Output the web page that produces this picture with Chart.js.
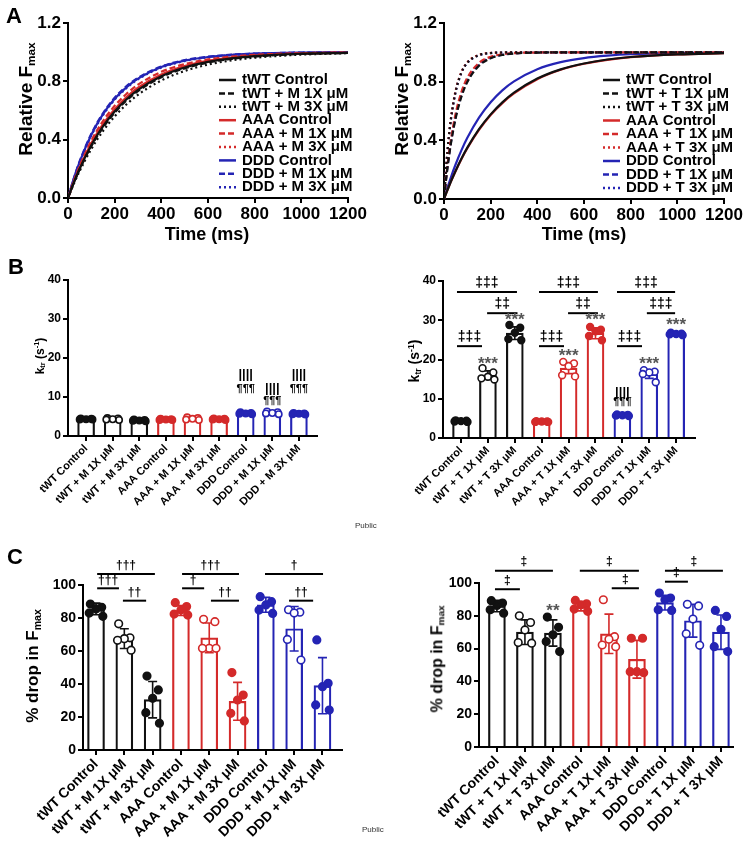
<!DOCTYPE html>
<html>
<head>
<meta charset="utf-8">
<title>Relative Fmax, ktr and % drop in Fmax</title>
<script src="https://cdn.jsdelivr.net/npm/chart.js@4.4.1/dist/chart.umd.min.js"></script>
<style>
  body { margin: 0; background: #fff; }
  #fig { position: relative; width: 747px; height: 847px; overflow: hidden; font-family: "Liberation Sans", Arial, sans-serif; color: #000; }
  #fig canvas { position: absolute; }
  .t { position: absolute; font-weight: bold; white-space: nowrap; line-height: 1; }
  .rot { transform: translate(-50%, -50%) rotate(-90deg); }
  .hc { transform: translate(-50%, -50%); }
  .t sub { font-size: 62%; vertical-align: -0.25em; }
  .t sup { font-size: 62%; vertical-align: 0.6em; }
  .letter { position: absolute; font-weight: bold; font-size: 22px; line-height: 1; }
  .pub { position: absolute; font-size: 8px; color: #333; line-height: 1; }
</style>
</head>
<body>
<div id="fig">
  <canvas id="aLeft" width="372" height="250" style="left:0;top:0"></canvas>
  <canvas id="aRight" width="372" height="250" style="left:375px;top:0"></canvas>
  <canvas id="bLeft" width="372" height="275" style="left:0;top:255px"></canvas>
  <canvas id="bRight" width="372" height="275" style="left:375px;top:255px"></canvas>
  <canvas id="cLeft" width="372" height="307" style="left:0;top:540px"></canvas>
  <canvas id="cRight" width="372" height="307" style="left:375px;top:540px"></canvas>

  <div class="letter" style="left:6px;top:5px">A</div>
  <div class="letter" style="left:8px;top:256px">B</div>
  <div class="letter" style="left:7px;top:546px">C</div>

  <div class="t rot" style="left:26px;top:99px;font-size:19px">Relative F<sub>max</sub></div>
  <div class="t rot" style="left:402px;top:99px;font-size:19px">Relative F<sub>max</sub></div>
  <div class="t hc" style="left:207px;top:234px;font-size:18px">Time (ms)</div>
  <div class="t hc" style="left:584px;top:234px;font-size:18px">Time (ms)</div>

  <div class="t rot" style="left:40px;top:356px;font-size:12px">k<sub>tr</sub> (s<sup>-1</sup>)</div>
  <div class="t rot" style="left:415px;top:361px;font-size:14px">k<sub>tr</sub> (s<sup>-1</sup>)</div>

  <div class="t rot" style="left:33px;top:666px;font-size:17px">% drop in F<sub>max</sub></div>
  <div class="t rot" style="left:438px;top:659px;font-size:16px">% drop in F<sub>max</sub></div>

  <div class="pub" style="left:355px;top:522px">Public</div>
  <div class="pub" style="left:362px;top:826px">Public</div>
</div>

<script>
// ---- A: relative Fmax traces ----
const timeM = [0, 25, 50, 100, 150, 200, 250, 300, 400, 500, 600, 700, 800, 1000, 1200];
const mTwtCtrl = [0, 0.106, 0.201, 0.362, 0.491, 0.593, 0.675, 0.741, 0.835, 0.895, 0.933, 0.957, 0.973, 0.989, 0.995];
const mTwt1x   = [0, 0.104, 0.197, 0.356, 0.483, 0.585, 0.667, 0.733, 0.828, 0.889, 0.929, 0.954, 0.970, 0.988, 0.995];
const mTwt3x   = [0, 0.097, 0.185, 0.336, 0.459, 0.560, 0.641, 0.708, 0.806, 0.871, 0.915, 0.943, 0.962, 0.983, 0.993];
const mAaaCtrl = [0, 0.111, 0.209, 0.375, 0.506, 0.609, 0.691, 0.756, 0.847, 0.905, 0.940, 0.963, 0.977, 0.991, 0.996];
const mAaa1x   = [0, 0.118, 0.221, 0.393, 0.528, 0.632, 0.713, 0.777, 0.865, 0.918, 0.950, 0.970, 0.982, 0.993, 0.998];
const mAaa3x   = [0, 0.109, 0.205, 0.369, 0.498, 0.601, 0.683, 0.748, 0.841, 0.900, 0.937, 0.960, 0.975, 0.990, 0.996];
const mDddCtrl = [0, 0.133, 0.248, 0.434, 0.575, 0.680, 0.759, 0.819, 0.898, 0.942, 0.967, 0.981, 0.990, 0.997, 0.999];
const mDdd1x   = [0, 0.135, 0.252, 0.440, 0.581, 0.687, 0.766, 0.824, 0.902, 0.945, 0.969, 0.983, 0.990, 0.997, 0.999];
const mDdd3x   = [0, 0.131, 0.244, 0.429, 0.568, 0.674, 0.753, 0.814, 0.894, 0.939, 0.965, 0.980, 0.989, 0.996, 0.999];

const timeT = [0, 10, 20, 30, 50, 75, 100, 150, 200, 250, 300, 400, 500, 600, 700, 800, 1000, 1200];
const tTwtCtrl = [0, 0.042, 0.082, 0.121, 0.193, 0.276, 0.350, 0.476, 0.577, 0.659, 0.725, 0.821, 0.884, 0.924, 0.951, 0.968, 0.986, 0.994];
const tTwt1x   = [0, 0.148, 0.274, 0.381, 0.551, 0.699, 0.798, 0.909, 0.959, 0.982, 0.992, 0.998, 1, 1, 1, 1, 1, 1];
const tTwt3x   = [0, 0.233, 0.411, 0.548, 0.734, 0.863, 0.929, 0.981, 0.995, 0.999, 1, 1, 1, 1, 1, 1, 1, 1];
const tAaaCtrl = [0, 0.042, 0.081, 0.120, 0.191, 0.273, 0.346, 0.471, 0.573, 0.654, 0.720, 0.817, 0.881, 0.922, 0.949, 0.967, 0.986, 0.994];
const tAaa1x   = [0, 0.161, 0.295, 0.408, 0.583, 0.731, 0.826, 0.928, 0.970, 0.987, 0.995, 0.999, 1, 1, 1, 1, 1, 1];
const tAaa3x   = [0, 0.237, 0.417, 0.555, 0.741, 0.868, 0.933, 0.983, 0.996, 0.999, 1, 1, 1, 1, 1, 1, 1, 1];
const tDddCtrl = [0, 0.053, 0.102, 0.150, 0.237, 0.333, 0.417, 0.555, 0.660, 0.741, 0.802, 0.885, 0.933, 0.961, 0.977, 0.987, 0.995, 0.998];
const tDdd1x   = [0, 0.152, 0.281, 0.390, 0.562, 0.710, 0.808, 0.916, 0.963, 0.984, 0.993, 0.999, 1, 1, 1, 1, 1, 1];
const tDdd3x   = [0, 0.231, 0.409, 0.546, 0.731, 0.861, 0.928, 0.981, 0.995, 0.999, 1, 1, 1, 1, 1, 1, 1, 1];

const timeTicks = [0, 200, 400, 600, 800, 1000, 1200];
const fmaxTicks = [0, 0.4, 0.8, 1.2];

// ---- categories ----
const labelsM = ["tWT Control", "tWT + M 1X \u03bcM", "tWT + M 3X \u03bcM", "AAA Control", "AAA + M 1X \u03bcM", "AAA + M 3X \u03bcM", "DDD Control", "DDD + M 1X \u03bcM", "DDD + M 3X \u03bcM"];
const labelsT = ["tWT Control", "tWT + T 1X \u03bcM", "tWT + T 3X \u03bcM", "AAA Control", "AAA + T 1X \u03bcM", "AAA + T 3X \u03bcM", "DDD Control", "DDD + T 1X \u03bcM", "DDD + T 3X \u03bcM"];

// ---- B: ktr (s^-1) ----
const ktrTicks = [0, 10, 20, 30, 40];
const ktrM_mean = [4.3, 4.3, 4.0, 4.2, 4.4, 4.3, 5.8, 5.9, 5.7];
const ktrM_sd = [0.15, 0.2, 0.2, 0.1, 0.3, 0.2, 0.2, 0.3, 0.2];
const ktrM_points = [
  [4.5, 4.4, 4.3, 4.2, 4.2], [4.6, 4.5, 4.3, 4.2, 4.1], [4.2, 4.1, 4.0, 3.9, 3.8],
  [4.4, 4.3, 4.2, 4.1, 4.1], [4.8, 4.6, 4.4, 4.2, 4.1], [4.5, 4.4, 4.3, 4.2, 4.1],
  [6.1, 5.9, 5.8, 5.7, 5.6], [6.3, 6.1, 5.9, 5.8, 5.6], [5.9, 5.8, 5.7, 5.6, 5.5]
];
const ktrT_mean = [4.3, 16.0, 26.7, 4.2, 17.8, 26.7, 5.8, 16.3, 26.5];
const ktrT_sd = [0.2, 1.1, 1.6, 0.15, 1.4, 1.4, 0.2, 1.1, 0.3];
const ktrT_points = [
  [4.5, 4.4, 4.3, 4.2, 4.1], [17.8, 16.7, 15.6, 15.2, 14.9], [28.8, 28.1, 26.8, 25.2, 24.9],
  [4.3, 4.2, 4.2, 4.1, 4.1], [19.4, 19.0, 18.3, 16.0, 15.7], [28.3, 27.6, 27.2, 26.0, 24.9],
  [6.0, 5.9, 5.8, 5.7, 5.6], [17.3, 16.9, 16.7, 16.3, 14.2], [26.8, 26.6, 26.5, 26.4, 26.2]
];

// ---- C: % drop in Fmax ----
const dropTicks = [0, 20, 40, 60, 80, 100];
const dropM_mean = [85.5, 67.5, 30.5, 84.5, 68, 29.5, 88, 73.5, 39];
const dropM_sd = [3.5, 6, 11, 3, 9, 11.5, 4.5, 13.5, 17];
const dropM_points = [
  [88.5, 86.5, 85.5, 83, 81], [76.5, 68, 67.5, 66.5, 60.5], [44.8, 36.4, 31.3, 22.6, 16.2],
  [89.3, 86.9, 84.8, 82.4, 81.8], [79.2, 77.8, 61.6, 61.6, 61.6], [46.9, 33.3, 30.3, 22.2, 17.6],
  [92.9, 89.9, 87.9, 84.8, 82.8], [85, 83.5, 83, 67, 54.5], [66.7, 40.4, 38.4, 27.3, 24.2]
];
const dropT_mean = [86, 70, 69.5, 85.5, 69, 53.5, 88, 77, 70];
const dropT_sd = [3.5, 7.5, 8, 2.5, 12, 11.5, 4.5, 10, 10.5];
const dropT_points = [
  [89.2, 87.8, 86.3, 83.7, 81.6], [80, 75.9, 71.4, 63.7, 63.3], [79.2, 73, 68.4, 64.3, 58.2],
  [89.4, 87.3, 86.7, 84.1, 82.7], [89.8, 67.3, 65.7, 62.2, 61.2], [66.3, 66.3, 45.9, 45.9, 45.3],
  [93.9, 90.8, 89.8, 83.7, 83.3], [87, 86, 78, 69, 62], [83.3, 79.6, 71.8, 61.2, 58.2]
];

// significance brackets: [from, to, y, symbol]; texts: [category, y, symbol]
const bracketsKtrT = [
  [-0.15, 2.08, 37.2, "\u2021\u2021\u2021"], [0.97, 2.1, 31.8, "\u2021\u2021"], [-0.15, 0.78, 23.4, "\u2021\u2021\u2021"],
  [2.9, 5.09, 37.2, "\u2021\u2021\u2021"], [3.98, 5.09, 31.8, "\u2021\u2021"], [2.9, 3.83, 23.4, "\u2021\u2021\u2021"],
  [5.8, 7.96, 37.2, "\u2021\u2021\u2021"], [6.91, 7.96, 31.8, "\u2021\u2021\u2021"], [5.8, 6.73, 23.4, "\u2021\u2021\u2021"]
];
const starsKtrT = [[1, 18.9, "***"], [2, 29.9, "***"], [4, 20.7, "***"], [5, 29.9, "***"], [7, 18.7, "***"], [8, 28.6, "***"]];
const symbolsKtrT = [[6, 11.7, "||||"], [6, 9.2, "\u00b6\u00b6\u00b6"]];
const symbolsKtrM = [[6, 15.9, "||||"], [6, 12.0, "\u00b6\u00b6\u00b6"], [7, 12.3, "||||"], [7, 9.0, "\u00b6\u00b6\u00b6"], [8, 15.9, "||||"], [8, 12.0, "\u00b6\u00b6\u00b6"]];
const bracketsDropM = [
  [0.04, 2.08, 106.7, "\u2020\u2020\u2020"], [0.04, 0.81, 98, "\u2020\u2020\u2020"], [0.95, 1.77, 90.5, "\u2020\u2020"],
  [3.04, 5.05, 106.7, "\u2020\u2020\u2020"], [3.04, 3.82, 98, "\u2020"], [4.06, 5.05, 90.5, "\u2020\u2020"],
  [5.97, 8.02, 106.7, "\u2020"], [6.82, 7.67, 90.5, "\u2020\u2020"]
];
const bracketsDropT = [
  [-0.07, 2.0, 107.5, "\u2021"], [-0.07, 0.82, 96.2, "\u2021"],
  [2.96, 5.07, 107.5, "\u2021"], [4.1, 5.07, 96.8, "\u2021"],
  [6.0, 8.07, 107.5, "\u2021"], [6.0, 6.82, 100.8, "\u2021"]
];
const starsDropT = [[2, 82.5, "**"]];

const FONT = '"Liberation Sans", Arial, sans-serif';
Chart.defaults.font.family = FONT;
Chart.defaults.color = "#000";

const BLACK = "#111111", RED = "#d42a2a", BLUE = "#2424b4";
const groupColors = [BLACK, BLACK, BLACK, RED, RED, RED, BLUE, BLUE, BLUE];
const jitter = [-0.2, 0.2, 0, -0.24, 0.24];

// legend drawn inside the plot area, like the original
const insetLegend = {
  id: "insetLegend",
  afterDraw(chart, args, opts) {
    const ctx = chart.ctx;
    ctx.save();
    ctx.font = "bold 15px " + FONT;
    ctx.textBaseline = "middle";
    chart.data.datasets.forEach((ds, i) => {
      const y = opts.y0 + i * opts.dy;
      ctx.strokeStyle = ds.borderColor;
      ctx.lineWidth = 2.5;
      ctx.setLineDash(ds.borderDash || []);
      ctx.beginPath();
      ctx.moveTo(opts.x, y);
      ctx.lineTo(opts.x + 17, y);
      ctx.stroke();
      ctx.setLineDash([]);
      ctx.fillStyle = "#000";
      ctx.fillText(ds.label, opts.x + 23, y);
    });
    ctx.restore();
  }
};

// error bars + significance marks
const marks = {
  id: "marks",
  afterDatasetDraw(chart, args) {
    if (args.meta.type !== "bar") return;
    const ds = chart.data.datasets[args.index];
    const xs = chart.scales.x, ys = chart.scales.y, ctx = chart.ctx;
    ctx.save();
    ctx.lineWidth = 1.6;
    ds.data.forEach((p, i) => {
      const x = xs.getPixelForValue(p.x);
      const top = ys.getPixelForValue(p.y + ds.errors[i]);
      const bot = ys.getPixelForValue(p.y - ds.errors[i]);
      ctx.strokeStyle = groupColors[i];
      ctx.beginPath();
      ctx.moveTo(x, top); ctx.lineTo(x, bot);
      ctx.moveTo(x - 4.5, top); ctx.lineTo(x + 4.5, top);
      ctx.moveTo(x - 4.5, bot); ctx.lineTo(x + 4.5, bot);
      ctx.stroke();
    });
    ctx.restore();
  },
  afterDraw(chart, args, opts) {
    const xs = chart.scales.x, ys = chart.scales.y, ctx = chart.ctx;
    ctx.save();
    ctx.textAlign = "center";
    ctx.textBaseline = "middle";
    (opts.brackets || []).forEach(([a, b, y, t]) => {
      const py = ys.getPixelForValue(y);
      ctx.strokeStyle = "#000";
      ctx.lineWidth = 2;
      ctx.beginPath();
      ctx.moveTo(xs.getPixelForValue(a), py);
      ctx.lineTo(xs.getPixelForValue(b), py);
      ctx.stroke();
      ctx.fillStyle = "#000";
      ctx.font = opts.bracketFont;
      ctx.fillText(t, xs.getPixelForValue((a + b) / 2), py - opts.gap);
    });
    (opts.stars || []).forEach(([i, y, t]) => {
      ctx.fillStyle = "#555";
      ctx.font = opts.starFont;
      ctx.fillText(t, xs.getPixelForValue(i), ys.getPixelForValue(y));
    });
    (opts.symbols || []).forEach(([i, y, t]) => {
      ctx.fillStyle = "#000";
      ctx.font = t === "||||" ? "bold 13px " + FONT : "bold 11px " + FONT;
      ctx.fillText(t, xs.getPixelForValue(i), ys.getPixelForValue(y));
    });
    ctx.restore();
  }
};

function axisStyle() {
  return {
    grid: { drawOnChartArea: false, color: "#000", lineWidth: 2, tickLength: 5, offset: false },
    border: { color: "#000", width: 2 }
  };
}

function traceChart(id, time, series, labels, area, legend) {
  const cv = document.getElementById(id);
  const dashes = [[], [6, 3], [2, 3]];
  new Chart(cv, {
    type: "line",
    data: {
      datasets: series.map((ys, i) => ({
        label: labels[i],
        data: ys.map((y, j) => ({ x: time[j], y: y })),
        borderColor: groupColors[i],
        borderDash: dashes[i % 3],
        borderWidth: 2.2,
        pointRadius: 0,
        cubicInterpolationMode: "monotone",
        fill: false
      }))
    },
    options: {
      responsive: false,
      animation: false,
      layout: { padding: { left: 0, right: cv.width - area.r, top: area.t, bottom: 0 } },
      plugins: { legend: { display: false }, tooltip: { enabled: false }, insetLegend: legend },
      scales: {
        x: Object.assign(axisStyle(), {
          type: "linear", min: 0, max: 1200,
          afterBuildTicks: s => { s.ticks = timeTicks.map(v => ({ value: v })); },
          afterFit: s => { s.height = cv.height - area.b; },
          ticks: { font: { size: 17, weight: "bold" }, padding: 1, maxRotation: 0, callback: v => String(v) }
        }),
        y: Object.assign(axisStyle(), {
          min: 0, max: 1.2,
          afterBuildTicks: s => { s.ticks = fmaxTicks.map(v => ({ value: v })); },
          afterFit: s => { s.width = area.l; },
          ticks: { font: { size: 17, weight: "bold" }, padding: 2, callback: v => v.toFixed(1) }
        })
      }
    },
    plugins: [insetLegend]
  });
}

function barChart(id, labels, means, sds, points, yTicks, cfg) {
  const cv = document.getElementById(id);
  const pts = [], ptFill = [], ptLine = [];
  points.forEach((arr, i) => arr.forEach((v, j) => {
    pts.push({ x: i + jitter[j], y: v });
    ptLine.push(groupColors[i]);
    ptFill.push(i % 3 === 1 ? "#fff" : groupColors[i]);
  }));
  new Chart(cv, {
    type: "bar",
    data: {
      datasets: [
        {
          type: "scatter", order: 0, data: pts,
          pointRadius: cfg.dot, pointBorderWidth: 1.6,
          pointBackgroundColor: ptFill, pointBorderColor: ptLine
        },
        {
          type: "bar", order: 1,
          data: means.map((v, i) => ({ x: i, y: v })),
          errors: sds,
          backgroundColor: "#fff", borderColor: groupColors,
          borderWidth: 2.2, barThickness: 17, borderSkipped: "start"
        }
      ]
    },
    options: {
      responsive: false,
      animation: false,
      layout: { padding: { left: 0, right: cv.width - cfg.area.r, top: cfg.area.t, bottom: 0 } },
      plugins: { legend: { display: false }, tooltip: { enabled: false }, marks: cfg.marks },
      scales: {
        x: Object.assign(axisStyle(), {
          type: "linear", offset: false, min: cfg.xMin, max: cfg.xMax,
          afterBuildTicks: s => { s.ticks = labels.map((_, i) => ({ value: i })); },
          afterFit: s => { s.height = cv.height - cfg.area.b; },
          ticks: {
            autoSkip: false, minRotation: 45, maxRotation: 45, padding: 1,
            font: { size: cfg.labelSize, weight: "bold" },
            callback: v => labels[v]
          }
        }),
        y: Object.assign(axisStyle(), {
          min: 0, max: yTicks[yTicks.length - 1],
          afterBuildTicks: s => { s.ticks = yTicks.map(v => ({ value: v })); },
          afterFit: s => { s.width = cfg.area.l; },
          ticks: { font: { size: cfg.tickSize, weight: "bold" }, padding: 2 }
        })
      }
    },
    plugins: [marks]
  });
}

traceChart("aLeft", timeM,
  [mTwtCtrl, mTwt1x, mTwt3x, mAaaCtrl, mAaa1x, mAaa3x, mDddCtrl, mDdd1x, mDdd3x],
  ["tWT Control", "tWT + M 1X \u03bcM", "tWT + M 3X \u03bcM", "AAA Control", "AAA + M 1X \u03bcM", "AAA + M 3X \u03bcM", "DDD Control", "DDD + M 1X \u03bcM", "DDD + M 3X \u03bcM"],
  { l: 68, t: 23, r: 348, b: 198 },
  { x: 219, y0: 80, dy: 13.4 });

traceChart("aRight", timeT,
  [tTwtCtrl, tTwt1x, tTwt3x, tAaaCtrl, tAaa1x, tAaa3x, tDddCtrl, tDdd1x, tDdd3x],
  ["tWT Control", "tWT + T 1X \u03bcM", "tWT + T 3X \u03bcM", "AAA Control", "AAA + T 1X \u03bcM", "AAA + T 3X \u03bcM", "DDD Control", "DDD + T 1X \u03bcM", "DDD + T 3X \u03bcM"],
  { l: 69, t: 23, r: 349, b: 199 },
  { x: 228, y0: 80, dy: 13.5 });

barChart("bLeft", labelsM, ktrM_mean, ktrM_sd, ktrM_points, ktrTicks, {
  area: { l: 68, t: 25, r: 317, b: 181 }, xMin: -0.68, xMax: 8.68,
  labelSize: 11, tickSize: 12, dot: 3.2,
  marks: { symbols: symbolsKtrM }
});

barChart("bRight", labelsT, ktrT_mean, ktrT_sd, ktrT_points, ktrTicks, {
  area: { l: 68, t: 26, r: 320, b: 183 }, xMin: -0.67, xMax: 8.7,
  labelSize: 11, tickSize: 12, dot: 3.4,
  marks: { brackets: bracketsKtrT, stars: starsKtrT, symbols: symbolsKtrT, gap: 9,
           bracketFont: "bold 14px " + FONT, starFont: "bold 17px " + FONT }
});

barChart("cLeft", labelsM, dropM_mean, dropM_sd, dropM_points, dropTicks, {
  area: { l: 83, t: 45, r: 342, b: 210 }, xMin: -0.46, xMax: 8.69,
  labelSize: 14, tickSize: 14, dot: 3.8,
  marks: { brackets: bracketsDropM, gap: 8, bracketFont: "bold 12px " + FONT }
});

barChart("cRight", labelsT, dropT_mean, dropT_sd, dropT_points, dropTicks, {
  area: { l: 104, t: 43, r: 358, b: 207 }, xMin: -0.64, xMax: 8.43,
  labelSize: 14, tickSize: 14, dot: 3.8,
  marks: { brackets: bracketsDropT, stars: starsDropT, gap: 9,
           bracketFont: "bold 12px " + FONT, starFont: "bold 17px " + FONT }
});
</script>
</body>
</html>
